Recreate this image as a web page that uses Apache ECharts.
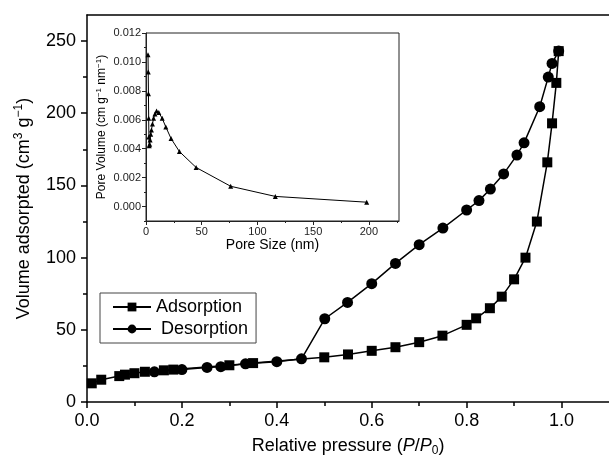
<!DOCTYPE html>
<html><head><meta charset="utf-8">
<script src="https://cdn.jsdelivr.net/npm/echarts@6/dist/echarts.min.js"></script>
<style>html,body{margin:0;padding:0;background:#fff}#c{width:609px;height:462px}</style>
</head><body><div id="c"></div>
<script>
// Main isotherm data
const adsP = [0.01,0.03,0.068,0.08,0.10,0.122,0.162,0.182,0.30,0.35,0.50,0.55,0.60,0.65,0.70,0.749,0.80,0.82,0.849,0.874,0.90,0.924,0.948,0.97,0.98,0.989,0.994];
const adsV = [13,15.5,18,19,20,21,22,22.5,25.5,27,31,33,35.5,38,41.5,46,53.5,58,65,73,85,100,125,166,193,221,243];
const desP = [0.994,0.98,0.972,0.954,0.921,0.906,0.878,0.85,0.826,0.80,0.75,0.70,0.65,0.60,0.549,0.501,0.452,0.40,0.334,0.282,0.253,0.20,0.142];
const desV = [243,234.5,225,204.5,179.5,171,158,147.5,139.5,133,120.5,109,96,82,69,57.7,30,28,26.5,24.5,24,22.5,21];
// Inset pore size distribution
const poreSize = [1.8,2.0,2.2,2.4,2.6,2.9,3.3,3.7,4.2,4.9,5.8,6.8,8.0,9.5,11.5,14.5,17.8,22.5,30,45,76,116,198];
const poreVol = [0.0105,0.0093,0.0078,0.0061,0.0048,0.0042,0.0043,0.0046,0.0050,0.0053,0.0057,0.0061,0.0064,0.0066,0.0065,0.0061,0.0055,0.0047,0.0038,0.0027,0.0014,0.0007,0.0003];
// Ticks
const mainXTicks = [0,0.2,0.4,0.6,0.8,1.0];
const mainXMinor = [0.1,0.3,0.5,0.7,0.9];
const mainYTicks = [0,50,100,150,200,250];
const mainYMinor = [25,75,125,175,225];
const insetXTicks = [0,50,100,150,200];
const insetXMinor = [25,75,125,175,225];
const insetYTicks = [0,0.002,0.004,0.006,0.008,0.010,0.012];
const insetYMinor = [-0.001,0.001,0.003,0.005,0.007,0.009,0.011];

const FONT = 'Liberation Sans, Arial, sans-serif';
const zip = (a,b)=>a.map((v,i)=>[v,b[i]]);
const chart = echarts.init(document.getElementById('c'), null, {renderer:'canvas'});
function mainAxisX(extra){return Object.assign({type:'value',gridIndex:0,min:0,max:1.1,position:'bottom',splitLine:{show:false}},extra);}
function mainAxisY(extra){return Object.assign({type:'value',gridIndex:0,min:0,max:268,position:'left',splitLine:{show:false}},extra);}
function insAxisX(extra){return Object.assign({type:'value',gridIndex:1,min:0,max:227,position:'bottom',splitLine:{show:false}},extra);}
function insAxisY(extra){return Object.assign({type:'value',gridIndex:1,min:-0.001,max:0.012,position:'left',splitLine:{show:false}},extra);}

chart.setOption({
  animation:false,
  textStyle:{fontFamily:FONT},
  grid:[
    {left:87,right:0,top:15,bottom:57,containLabel:false},
    {left:146,top:33,width:253,height:188,show:true,backgroundColor:'#fff',borderColor:'#222',borderWidth:1,z:5}
  ],
  legend:{
    data:['Adsorption','Desorption'], orient:'vertical', left:100, top:293,
    borderColor:'#444', borderWidth:1, padding:[5,8,5,12], itemGap:4,
    itemWidth:38, itemHeight:11,
    formatter:n=> n==='Desorption' ? ' Desorption' : n,
    textStyle:{fontSize:18,color:'#000',fontFamily:FONT}
  },
  xAxis:[
    mainAxisX({axisLine:{show:true,onZero:false,lineStyle:{color:'#000',width:1.5}},
      axisTick:{show:true,inside:false,length:6,customValues:mainXTicks,lineStyle:{color:'#000',width:1.5}},
      axisLabel:{customValues:mainXTicks,formatter:v=>v.toFixed(1),fontSize:18,color:'#000',margin:10,fontFamily:FONT},
      name:'Relative pressure ({i|P}/{i|P}{sub|0})', nameLocation:'middle', nameGap:25,
      nameTextStyle:{fontSize:18,color:'#000',fontFamily:FONT,lineHeight:22,
        rich:{i:{fontStyle:'italic',fontSize:18,color:'#000',fontFamily:FONT},
              sub:{fontSize:12,color:'#000',verticalAlign:'bottom',lineHeight:14,fontFamily:FONT}}}
    }),
    mainAxisX({axisLine:{show:false,onZero:false},axisTick:{show:true,length:4,customValues:mainXMinor,lineStyle:{color:'#000',width:1.5}},axisLabel:{show:false}}),
    mainAxisX({position:'top',axisLine:{show:true,onZero:false,lineStyle:{color:'#000',width:1.5}},axisTick:{show:false},axisLabel:{show:false}}),
    insAxisX({axisLine:{show:true,onZero:false,lineStyle:{color:'#222',width:1}},
      axisTick:{show:true,length:4,customValues:insetXTicks,lineStyle:{color:'#222'}},
      axisLabel:{customValues:insetXTicks,fontSize:11,color:'#222',margin:5,fontFamily:FONT},
      name:'Pore Size (nm)', nameLocation:'middle', nameGap:14,
      nameTextStyle:{fontSize:14,color:'#000',fontFamily:FONT}, z:6}),
    insAxisX({axisLine:{show:false,onZero:false},axisTick:{show:true,length:2,customValues:insetXMinor,lineStyle:{color:'#222'}},axisLabel:{show:false},z:6})
  ],
  yAxis:[
    mainAxisY({axisLine:{show:true,onZero:false,lineStyle:{color:'#000',width:1.5}},
      axisTick:{show:true,inside:false,length:6,customValues:mainYTicks,lineStyle:{color:'#000',width:1.5}},
      axisLabel:{customValues:mainYTicks,fontSize:18,color:'#000',margin:11,fontFamily:FONT},
      name:'Volume adsorpted (cm{sup|3} g{sup|−1})', nameLocation:'middle', nameGap:51, nameRotate:90,
      nameTextStyle:{fontSize:18,color:'#000',fontFamily:FONT,lineHeight:22,
        rich:{sup:{fontSize:12,color:'#000',verticalAlign:'top',lineHeight:12,fontFamily:FONT}}}
    }),
    mainAxisY({axisLine:{show:false,onZero:false},axisTick:{show:true,length:4,customValues:mainYMinor,lineStyle:{color:'#000',width:1.5}},axisLabel:{show:false}}),
    insAxisY({axisLine:{show:true,onZero:false,lineStyle:{color:'#222',width:1}},
      axisTick:{show:true,length:4,customValues:insetYTicks,lineStyle:{color:'#222'}},
      axisLabel:{customValues:insetYTicks,formatter:v=>v.toFixed(3),fontSize:11,color:'#222',margin:5,fontFamily:FONT},
      name:'Pore Volume (cm g{sup|−1} nm{sup|−1})', nameLocation:'middle', nameGap:31, nameRotate:90,
      nameTextStyle:{fontSize:12,color:'#000',fontFamily:FONT,lineHeight:15,
        rich:{sup:{fontSize:8,color:'#000',verticalAlign:'top',lineHeight:9,fontFamily:FONT}}}, z:6}),
    insAxisY({axisLine:{show:false,onZero:false},axisTick:{show:true,length:2,customValues:insetYMinor,lineStyle:{color:'#222'}},axisLabel:{show:false},z:6})
  ],
  series:[
    {name:'Adsorption',type:'line',xAxisIndex:0,yAxisIndex:0,data:zip(adsP,adsV),symbol:'rect',symbolSize:10,
      lineStyle:{color:'#000',width:1.5},itemStyle:{color:'#000'},z:2},
    {name:'Desorption',type:'line',xAxisIndex:0,yAxisIndex:0,data:zip(desP,desV),symbol:'circle',symbolSize:11,
      lineStyle:{color:'#000',width:1.5},itemStyle:{color:'#000'},z:3},
    {name:'PSD',type:'line',xAxisIndex:3,yAxisIndex:2,data:zip(poreSize,poreVol),symbol:'triangle',symbolSize:5,
      lineStyle:{color:'#000',width:1},itemStyle:{color:'#000'},z:7}
  ]
});
</script></body></html>
